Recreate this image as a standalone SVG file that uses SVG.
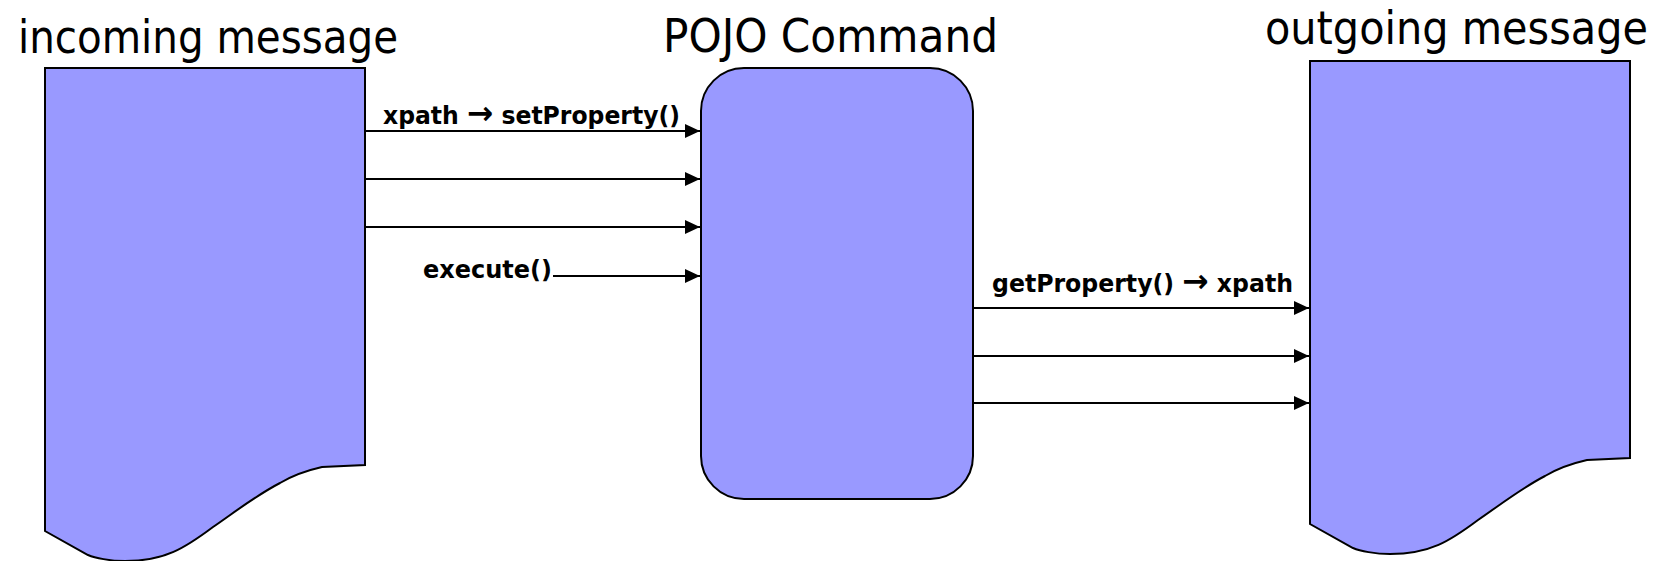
<svg xmlns="http://www.w3.org/2000/svg" width="1658" height="561" viewBox="0 0 1658 561">
  <style>
    .shape { fill: #9999ff; stroke: #000; stroke-width: 2; }
    .title { font-family: "DejaVu Sans Condensed", "DejaVu Sans", sans-serif; font-stretch: condensed; font-size: 46px; fill: #000; }
    .lbl { font-family: "DejaVu Sans", sans-serif; font-weight: bold; font-size: 24px; fill: #000; }
    .arr { font-size: 32px; }
    .conn { stroke: #000; stroke-width: 2; fill: none; marker-end: url(#arrow); }
  </style>
  <defs>
    <marker id="arrow" markerUnits="userSpaceOnUse" markerWidth="16" markerHeight="16" refX="15" refY="7" orient="auto">
      <path d="M0,0 L15,7 L0,14 Z" fill="#000"/>
    </marker>
    <path id="doc" d="M45,68 H365 V465 L322,467 C300,472 290,477 280,483 C255,496 235,512 213,527 C185,548 165,561 125,561 C110,561 95,558 88,555 L45,531 Z"/>
  </defs>
  <rect width="1658" height="561" fill="#fff"/>

  <g id="incoming">
    <use href="#doc" class="shape"/>
    <text class="title" x="18" y="53" textLength="380" lengthAdjust="spacingAndGlyphs">incoming message</text>
  </g>

  <g id="pojo">
    <rect class="shape" x="701" y="68" width="272" height="431" rx="43" ry="43"/>
    <text class="title" x="663" y="52" textLength="335" lengthAdjust="spacingAndGlyphs">POJO Command</text>
  </g>

  <g id="outgoing">
    <use href="#doc" class="shape" transform="translate(1265,-7)"/>
    <text class="title" x="1265" y="44" textLength="383" lengthAdjust="spacingAndGlyphs">outgoing message</text>
  </g>

  <g id="connectors">
    <line class="conn" x1="366" y1="131" x2="700" y2="131"/>
    <line class="conn" x1="366" y1="179" x2="700" y2="179"/>
    <line class="conn" x1="366" y1="227" x2="700" y2="227"/>
    <line class="conn" x1="553" y1="276" x2="700" y2="276"/>
    <line class="conn" x1="974" y1="308" x2="1309" y2="308"/>
    <line class="conn" x1="974" y1="356" x2="1309" y2="356"/>
    <line class="conn" x1="974" y1="403" x2="1309" y2="403"/>
    <text class="lbl" x="383" y="124" textLength="297" lengthAdjust="spacingAndGlyphs">xpath <tspan class="arr">→</tspan> setProperty()</text>
    <text class="lbl" x="552" y="278" text-anchor="end">execute()</text>
    <text class="lbl" x="992" y="292" textLength="301" lengthAdjust="spacingAndGlyphs">getProperty() <tspan class="arr">→</tspan> xpath</text>
  </g>
</svg>
